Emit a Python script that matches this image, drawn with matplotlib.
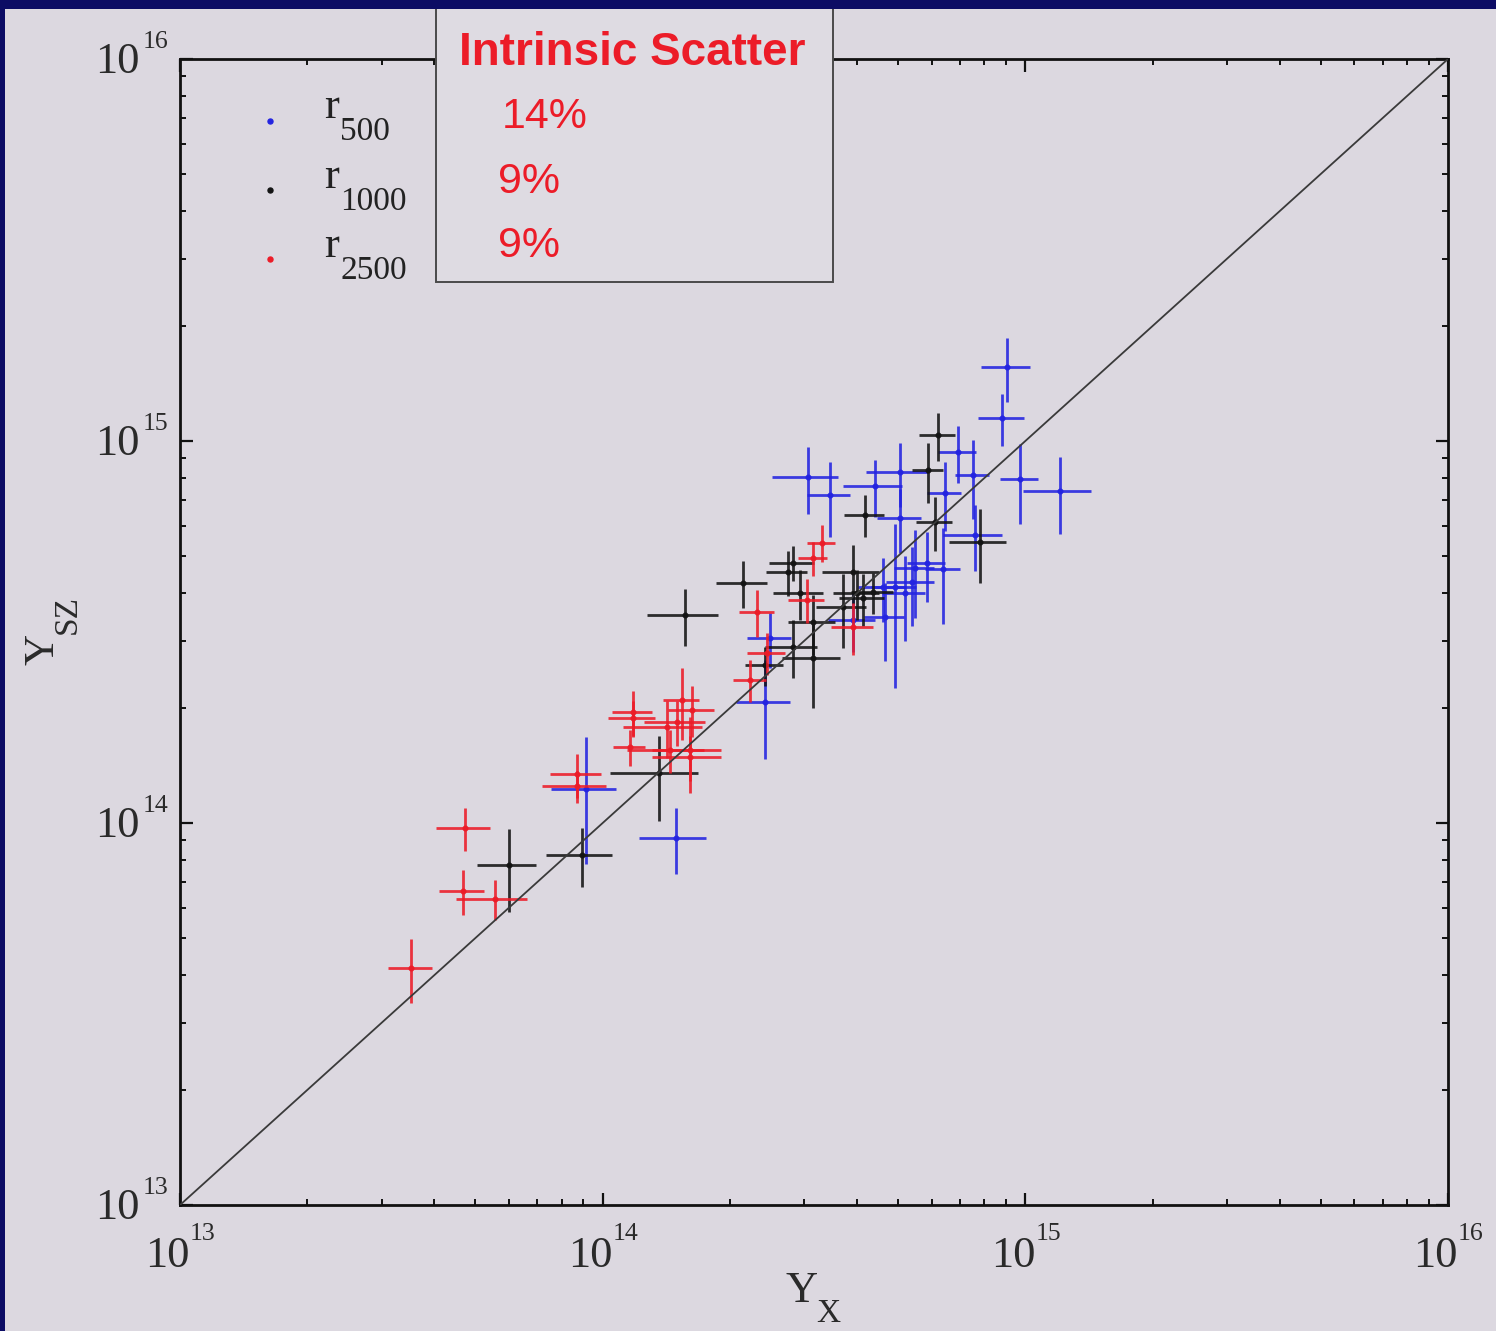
import matplotlib
matplotlib.use("Agg")
import matplotlib.pyplot as plt
from matplotlib.patches import Rectangle
from matplotlib.transforms import blended_transform_factory, offset_copy
import numpy as np

# ---------------- data ----------------
# r2500 (red)
r2500_x    = [3.52e13, 4.72e13, 4.67e13, 5.56e13, 8.69e13, 8.70e13, 1.18e14, 1.18e14, 1.16e14, 1.44e14,
              1.61e14, 1.61e14, 1.50e14, 1.42e14, 1.54e14, 1.63e14, 2.23e14, 2.32e14, 2.45e14, 3.04e14,
              3.15e14, 3.30e14, 3.91e14]
r2500_y    = [4.17e13, 9.70e13, 6.64e13, 6.32e13, 1.34e14, 1.25e14, 1.95e14, 1.88e14, 1.58e14, 1.55e14,
              1.55e14, 1.49e14, 1.84e14, 1.78e14, 2.10e14, 1.98e14, 2.37e14, 3.57e14, 2.79e14, 3.84e14,
              4.94e14, 5.41e14, 3.26e14]
r2500_xerr = [0.42e13, 0.69e13, 0.57e13, 1.06e13, 1.2e13, 1.5e13, 0.13e14, 0.15e14, 0.10e14, 0.30e14,
              0.30e14, 0.30e14, 0.25e14, 0.30e14, 0.15e14, 0.20e14, 0.20e14, 0.22e14, 0.25e14, 0.30e14,
              0.25e14, 0.25e14, 0.45e14]
r2500_yerr = [0.8e13, 1.25e13, 0.9e13, 0.76e13, 0.18e14, 0.12e14, 0.26e14, 0.20e14, 0.17e14, 0.20e14,
              0.35e14, 0.20e14, 0.25e14, 0.30e14, 0.45e14, 0.30e14, 0.30e14, 0.50e14, 0.35e14, 0.50e14,
              0.50e14, 0.60e14, 0.50e14]

# r1000 (black)
r1000_x    = [6.0e13, 8.93e13, 1.36e14, 1.57e14, 2.15e14, 2.82e14, 2.74e14, 3.91e14, 4.17e14, 6.21e14,
              5.89e14, 6.11e14, 7.81e14, 4.0e14, 3.7e14, 3.15e14, 2.93e14, 2.82e14, 3.15e14, 2.42e14,
              4.13e14, 4.36e14]
r1000_y    = [7.76e13, 8.25e13, 1.35e14, 3.5e14, 4.25e14, 4.8e14, 4.54e14, 4.54e14, 6.4e14, 1.037e15,
              8.4e14, 6.14e14, 5.44e14, 4.0e14, 3.68e14, 3.36e14, 4.0e14, 2.89e14, 2.70e14, 2.59e14,
              3.88e14, 4.02e14]
r1000_xerr = [0.95e13, 1.6e13, 0.32e14, 0.30e14, 0.30e14, 0.35e14, 0.30e14, 0.6e14, 0.45e14, 0.6e14,
              0.5e14, 0.6e14, 1.2e14, 0.5e14, 0.5e14, 0.4e14, 0.4e14, 0.4e14, 0.5e14, 0.25e14,
              0.5e14, 0.5e14]
r1000_yerr = [1.9e13, 1.45e13, 0.34e14, 0.6e14, 0.6e14, 0.5e14, 0.6e14, 0.8e14, 0.8e14, 1.5e14,
              1.5e14, 1.0e14, 1.2e14, 0.6e14, 0.8e14, 0.6e14, 0.6e14, 0.5e14, 0.7e14, 0.3e14,
              0.6e14, 0.5e14]

# r500 (blue)
r500_x    = [1.49e14, 9.13e13, 2.42e14, 2.49e14, 3.06e14, 3.45e14, 4.41e14, 5.05e14, 5.05e14, 6.45e14,
             6.93e14, 7.52e14, 9.05e14, 8.81e14, 9.71e14, 1.208e15, 7.6e14, 5.85e14, 6.39e14, 5.48e14,
             5.39e14, 4.92e14, 5.19e14, 4.61e14, 4.66e14, 3.91e14]
r500_y    = [9.14e13, 1.23e14, 2.07e14, 3.05e14, 8.05e14, 7.22e14, 7.63e14, 8.3e14, 6.29e14, 7.31e14,
             9.36e14, 8.15e14, 1.562e15, 1.148e15, 7.95e14, 7.4e14, 5.68e14, 4.79e14, 4.62e14, 4.65e14,
             4.27e14, 4.15e14, 4.0e14, 4.15e14, 3.46e14, 3.4e14]
r500_xerr = [0.27e14, 1.6e13, 0.35e14, 0.3e14, 0.55e14, 0.4e14, 0.7e14, 0.85e14, 0.6e14, 0.6e14,
             0.7e14, 0.7e14, 1.2e14, 1.1e14, 1.0e14, 0.22e15, 1.2e14, 0.6e14, 0.6e14, 0.6e14,
             0.7e14, 0.6e14, 0.6e14, 0.6e14, 0.5e14, 0.5e14]
r500_yerr = [1.8e13, 0.45e14, 0.6e14, 0.5e14, 1.6e14, 1.6e14, 1.3e14, 1.6e14, 1.2e14, 1.5e14,
             1.6e14, 1.9e14, 0.3e15, 0.18e15, 1.9e14, 1.7e14, 1.1e14, 1.0e14, 1.3e14, 1.2e14,
             1.0e14, 1.9e14, 1.0e14, 0.8e14, 0.8e14, 0.6e14]

legend_subs = ['500', '1000', '2500']
scatter_values = ['14%', '9%', '9%']
scatter_title = 'Intrinsic Scatter'
tick_values = [1e13, 1e14, 1e15, 1e16]
tick_exponents = ['13', '14', '15', '16']

# ---------------- style ----------------
BG = '#dcd8e0'
BLUE = '#2424e0'
RED = '#ec1c28'
BLACK = '#141414'
NAVY = '#0c0c64'
TXT = '#2a2a2a'
SERIF = ['Liberation Serif', 'DejaVu Serif']

plt.rcParams['font.family'] = SERIF

W, H = 1496, 1331
fig = plt.figure(figsize=(W / 100, H / 100), dpi=100, facecolor=BG)

def fx(px):
    return px / W

def fy(py):
    return 1 - py / H

ax = fig.add_axes([fx(180), fy(1205), fx(1448) - fx(180), (1205 - 59) / H])
ax.set_facecolor(BG)
ax.set_xscale('log')
ax.set_yscale('log')
ax.set_xlim(1e13, 1e16)
ax.set_ylim(1e13, 1e16)

ekw = dict(fmt='o', markersize=3.4, elinewidth=2.0, capsize=0, alpha=0.88)
ax.errorbar(r500_x, r500_y, xerr=r500_xerr, yerr=r500_yerr, color=BLUE, ecolor=BLUE, **ekw, zorder=3)
ax.errorbar(r1000_x, r1000_y, xerr=r1000_xerr, yerr=r1000_yerr, color=BLACK, ecolor=BLACK, **ekw, zorder=4)
ax.errorbar(r2500_x, r2500_y, xerr=r2500_xerr, yerr=r2500_yerr, color=RED, ecolor=RED, **ekw, zorder=5)

ax.plot([1e13, 1e16], [1e13, 1e16], color='#3a3a3a', lw=1.3, zorder=6)

for s in ax.spines.values():
    s.set_linewidth(2.0)
    s.set_color('#111111')

ax.tick_params(which='both', direction='in', top=True, right=True, colors='#111111')
ax.tick_params(which='major', length=9, width=1.6)
ax.tick_params(which='minor', length=4.5, width=1.4)
ax.set_xticks(tick_values)
ax.set_yticks(tick_values)
ax.set_xticklabels([])
ax.set_yticklabels([])

# tick labels drawn as "10" + raised exponent (IDL style)
tx = blended_transform_factory(ax.transData, ax.transAxes)
ty = blended_transform_factory(ax.transAxes, ax.transData)
for v, e in zip(tick_values, tick_exponents):
    ax.text(v, 0, '10', transform=offset_copy(tx, fig=fig, x=10, y=-62, units='dots'),
            ha='right', va='baseline', fontsize=32, color=TXT, clip_on=False)
    ax.text(v, 0, e, transform=offset_copy(tx, fig=fig, x=10, y=-35, units='dots'),
            ha='left', va='baseline', fontsize=18.5, color=TXT, clip_on=False)
    ax.text(0, v, '10', transform=offset_copy(ty, fig=fig, x=-40, y=-14, units='dots'),
            ha='right', va='baseline', fontsize=32, color=TXT, clip_on=False)
    ax.text(0, v, e, transform=offset_copy(ty, fig=fig, x=-37, y=11, units='dots'),
            ha='left', va='baseline', fontsize=18.5, color=TXT, clip_on=False)

# axis titles: Y_X and Y_SZ
fig.text(fx(786), fy(1302), 'Y', fontsize=32, color=TXT, ha='left', va='baseline')
fig.text(fx(816), fy(1322), 'X', fontsize=24, color=TXT, ha='left', va='baseline')
fig.text(fx(53), fy(665), 'Y', fontsize=31, color=TXT, ha='left', va='baseline',
         rotation=90, rotation_mode='anchor')
fig.text(fx(76), fy(634), 'SZ', fontsize=24, color=TXT, ha='left', va='baseline',
         rotation=90, rotation_mode='anchor')

# legend (dots + labels)
leg_colors = [BLUE, BLACK, RED]
leg_y = [121, 190, 259]
r_base = [118, 188, 257]
for c, yy, rb, sub in zip(leg_colors, leg_y, r_base, legend_subs):
    fig.add_artist(plt.Line2D([fx(270)], [fy(yy)], marker='o', markersize=3.6, color=c,
                              linestyle='none', transform=fig.transFigure))
    fig.text(fx(324), fy(rb), 'r', fontsize=32, color='#222222', va='baseline', ha='left')
    fig.text(fx(340), fy(rb + 22), sub, fontsize=24, color='#222222', va='baseline', ha='left')

# intrinsic scatter box
box = Rectangle((fx(436), fy(282)), fx(833) - fx(436), (282 - 5) / H, transform=fig.transFigure,
                facecolor='#dedbe2', edgecolor='#4a4a4a', lw=1.4, zorder=20)
fig.add_artist(box)
fig.text(fx(459), fy(65), scatter_title, fontsize=33, fontweight='bold', color=RED,
         family='Liberation Sans', va='baseline', ha='left', zorder=21)
val_x = [502, 498, 498]
val_y = [128, 193, 257]
for v, xx, yy in zip(scatter_values, val_x, val_y):
    fig.text(fx(xx), fy(yy), v, fontsize=31, color=RED, family='Liberation Sans',
             va='baseline', ha='left', zorder=21)

# navy frame at top and left
fig.add_artist(Rectangle((0, fy(9)), 1, 9 / H, transform=fig.transFigure, facecolor=NAVY,
                         edgecolor='none', zorder=30))
fig.add_artist(Rectangle((0, 0), fx(5), 1, transform=fig.transFigure, facecolor=NAVY,
                         edgecolor='none', zorder=30))

fig.savefig('out.png', dpi=100, facecolor=BG)
